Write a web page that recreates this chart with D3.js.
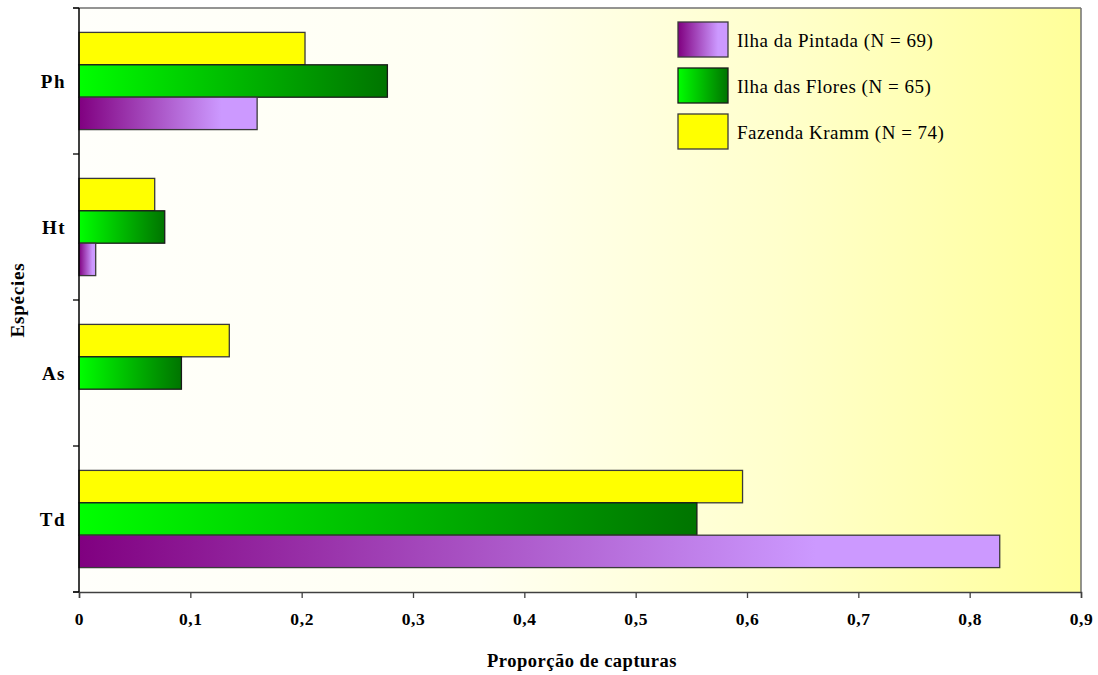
<!DOCTYPE html>
<html>
<head>
<meta charset="utf-8">
<script src="https://cdn.jsdelivr.net/npm/d3@7"></script>
<style>
  html, body { margin: 0; padding: 0; background: #ffffff; }
  svg { display: block; }
  text { font-family: "Liberation Serif", "Times New Roman", "DejaVu Serif", serif; fill: #000; }
</style>
</head>
<body>
<svg id="chart" width="1098" height="675"></svg>
<script>
// Species (top to bottom) and capture proportions per site
const categories = ["Ph", "Ht", "As", "Td"];
const pintada = [0.160, 0.015, 0, 0.827];     // Ilha da Pintada (N = 69)
const flores  = [0.277, 0.077, 0.092, 0.555]; // Ilha das Flores (N = 65)
const kramm   = [0.203, 0.068, 0.135, 0.596]; // Fazenda Kramm (N = 74)

const seriesNames = ["Ilha da Pintada (N = 69)", "Ilha das Flores (N = 65)", "Fazenda Kramm (N = 74)"];
const seriesValues = [pintada, flores, kramm];
const xTicks = [0, 0.1, 0.2, 0.3, 0.4, 0.5, 0.6, 0.7, 0.8, 0.9];

const svg = d3.select("#chart");
const W = 1098, H = 675;
const margin = { top: 8, right: 17, bottom: 83, left: 79 };
const iw = W - margin.left - margin.right;
const ih = H - margin.top - margin.bottom;

const defs = svg.append("defs");

// plot background: white fading into pale yellow
const bg = defs.append("linearGradient").attr("id", "bgGrad");
[[0, "#fffffb"], [0.4, "#fffff2"], [0.7, "#ffffcc"], [1, "#ffff99"]].forEach(([o, c]) =>
  bg.append("stop").attr("offset", o).attr("stop-color", c));

// bar fills
const gPurple = defs.append("linearGradient").attr("id", "gradPurple");
[[0, "#800080"], [0.8, "#cc99ff"], [1, "#cc99ff"]].forEach(([o, c]) =>
  gPurple.append("stop").attr("offset", o).attr("stop-color", c));
const gGreen = defs.append("linearGradient").attr("id", "gradGreen");
[[0, "#00ff00"], [1, "#007400"]].forEach(([o, c]) =>
  gGreen.append("stop").attr("offset", o).attr("stop-color", c));

const fills = ["url(#gradPurple)", "url(#gradGreen)", "#ffff00"];
const strokes = ["#3a3a3a", "#1a1a1a", "#3a3a3a"];

const g = svg.append("g").attr("transform", `translate(${margin.left},${margin.top})`);

g.append("rect").attr("width", iw).attr("height", ih).attr("fill", "url(#bgGrad)");

const x = d3.scaleLinear().domain([0, 0.9]).range([0, iw]);
const y0 = d3.scaleBand().domain(categories).range([0, ih]).padding(0);
// within each species band: Fazenda Kramm on top, then Flores, then Pintada
const order = [2, 1, 0];
const y1 = d3.scaleBand().domain(order).range([0, y0.bandwidth()]).paddingInner(0).paddingOuter(0.753);

// top and right frame
g.append("line").attr("x1", -6).attr("x2", iw).attr("y1", 0).attr("y2", 0)
  .attr("stroke", "#707070").attr("stroke-width", 1.5);
g.append("line").attr("x1", iw).attr("x2", iw).attr("y1", 0).attr("y2", ih)
  .attr("stroke", "#707070").attr("stroke-width", 1.5);

// bars
const rows = [];
categories.forEach((c, i) => {
  order.forEach(s => {
    rows.push({ cat: c, s: s, v: seriesValues[s][i] });
  });
});
g.selectAll("rect.bar").data(rows.filter(d => d.v > 0)).join("rect")
  .attr("class", "bar")
  .attr("x", x(0))
  .attr("y", d => y0(d.cat) + y1(d.s))
  .attr("width", d => x(d.v) - x(0))
  .attr("height", y1.bandwidth())
  .attr("fill", d => fills[d.s])
  .attr("stroke", d => strokes[d.s])
  .attr("stroke-width", 1.3);

// x axis
const xAxis = g.append("g").attr("transform", `translate(0,${ih})`)
  .call(d3.axisBottom(x).tickValues(xTicks).tickSize(6).tickPadding(15)
    .tickFormat(d => d3.format(".1~f")(d).replace(".", ",")));
xAxis.attr("font-family", null);
xAxis.select(".domain").attr("stroke", "#404040").attr("stroke-width", 1.5);
xAxis.selectAll(".tick line").attr("stroke", "#404040").attr("stroke-width", 1.3);
xAxis.selectAll(".tick text").attr("font-size", 17.5).attr("font-weight", "bold")
  .attr("letter-spacing", 0.6).attr("fill", "#000");
g.append("line").attr("x1", -6).attr("x2", 0).attr("y1", ih).attr("y2", ih)
  .attr("stroke", "#404040").attr("stroke-width", 1.5);

// y axis: ticks at band boundaries, labels at band centres
const yAxis = g.append("g");
yAxis.append("line").attr("x1", 0).attr("x2", 0).attr("y1", 0).attr("y2", ih)
  .attr("stroke", "#000").attr("stroke-width", 1.5);
const bounds = categories.map(c => y0(c)).concat([ih]);
yAxis.selectAll("line.tk").data(bounds).join("line").attr("class", "tk")
  .attr("x1", -6).attr("x2", 0).attr("y1", d => d).attr("y2", d => d)
  .attr("stroke", "#000").attr("stroke-width", 1.3);
yAxis.selectAll("text.cat").data(categories).join("text").attr("class", "cat")
  .attr("x", -13).attr("y", d => y0(d) + y0.bandwidth() / 2)
  .attr("dy", "0.35em").attr("text-anchor", "end")
  .attr("font-size", 19).attr("font-weight", "bold").attr("letter-spacing", 1.5)
  .text(d => d);

// axis titles
svg.append("text").attr("x", margin.left + iw / 2 + 2).attr("y", 667)
  .attr("text-anchor", "middle").attr("font-size", 18.5).attr("font-weight", "bold")
  .attr("letter-spacing", 0.5)
  .text("Proporção de capturas");
svg.append("text").attr("transform", `translate(24,${margin.top + ih / 2}) rotate(-90)`)
  .attr("text-anchor", "middle").attr("font-size", 19).attr("font-weight", "bold")
  .attr("letter-spacing", 0.8)
  .text("Espécies");

// legend
const legend = svg.append("g").attr("transform", "translate(678,22)");
seriesNames.forEach((name, i) => {
  const row = legend.append("g").attr("transform", `translate(0,${i * 46})`);
  row.append("rect").attr("width", 50).attr("height", 35)
    .attr("fill", fills[i]).attr("stroke", strokes[i]).attr("stroke-width", 1.3);
  row.append("text").attr("x", 59).attr("y", 18).attr("dy", "0.35em")
    .attr("font-size", 19).attr("letter-spacing", 0.5).text(name);
});
</script>
</body>
</html>
